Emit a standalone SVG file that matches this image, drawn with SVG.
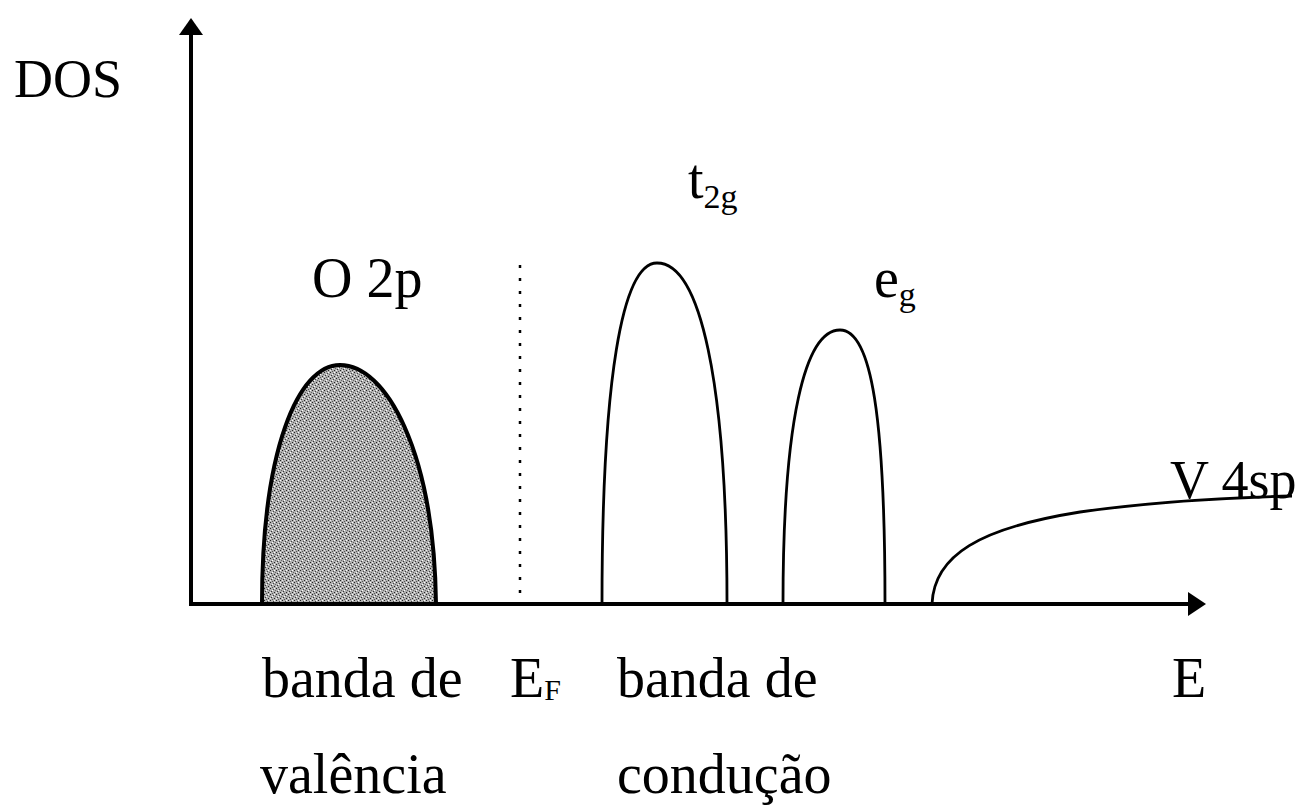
<svg xmlns="http://www.w3.org/2000/svg" width="1308" height="812" viewBox="0 0 1308 812">
<style>
text{font-family:"Liberation Serif","Times New Roman",serif;fill:#000}
.lbl{font-size:56px}
.sub{font-size:34px}
.ax{stroke:#000;stroke-width:4;fill:none}
.band{stroke:#000;stroke-width:2.8;fill:none}
</style>
<defs>
<pattern id="stip" width="6" height="6" patternUnits="userSpaceOnUse">
<rect width="6" height="6" fill="#b0b0b0"/>
<rect x="0" y="0" width="1" height="1" fill="#222"/>
<rect x="3" y="1" width="1" height="1" fill="#444"/>
<rect x="1" y="3" width="1" height="1" fill="#333"/>
<rect x="4" y="4" width="1" height="1" fill="#222"/>
<rect x="2" y="5" width="1" height="1" fill="#555"/>
<rect x="5" y="2" width="1" height="1" fill="#666"/>
<rect x="4" y="0" width="1" height="1" fill="#fff"/>
<rect x="2" y="2" width="1" height="1" fill="#fff"/>
<rect x="0" y="4" width="1" height="1" fill="#eee"/>
</pattern>
</defs>
<g id="axes">
<line class="ax" x1="191" y1="30" x2="191" y2="606"/>
<polygon points="191,18 179,35 203,35" fill="#000"/>
<line class="ax" x1="189" y1="604" x2="1192" y2="604"/>
<polygon points="1206,604 1188,592 1188,616" fill="#000"/>
</g>
<g id="connectors">
<line x1="520" y1="265" x2="520" y2="604" stroke="#000" stroke-width="2.5" stroke-dasharray="3 10"/>
</g>
<g id="o2p">
<path d="M262,604 C262,450 298,365 340,365 C386,365 434,450 436,604 Z" fill="url(#stip)" stroke="#000" stroke-width="4"/>
<text class="lbl" x="312" y="297">O 2p</text>
</g>
<g id="t2g">
<path class="band" d="M602,604 C602,380 622,263 657,263 C700,263 727,380 727,604"/>
<text x="688" y="198" class="lbl">t<tspan class="sub" dy="10">2g</tspan></text>
</g>
<g id="eg">
<path class="band" d="M783,604 C783,420 805,330 840,330 C872,330 885,420 885,604"/>
<text x="874" y="297" class="lbl">e<tspan class="sub" dy="9">g</tspan></text>
</g>
<g id="v4sp">
<path class="band" d="M932,604 C934,555 980,528 1080,512 C1150,502 1220,498 1292,496"/>
<text class="lbl" x="1170" y="498" style="font-size:54px">V 4sp</text>
</g>
<g id="labels">
<text class="lbl" x="14" y="97" style="font-size:54px">DOS</text>
<text class="lbl" x="262" y="697">banda de</text>
<text class="lbl" x="260" y="793">valência</text>
<text class="lbl" x="510" y="697">E<tspan style="font-size:30px;fill:#000" dy="3">F</tspan></text>
<text class="lbl" x="617" y="697">banda de</text>
<text class="lbl" x="617" y="793">condução</text>
<text class="lbl" x="1172" y="697">E</text>
</g>
</svg>
